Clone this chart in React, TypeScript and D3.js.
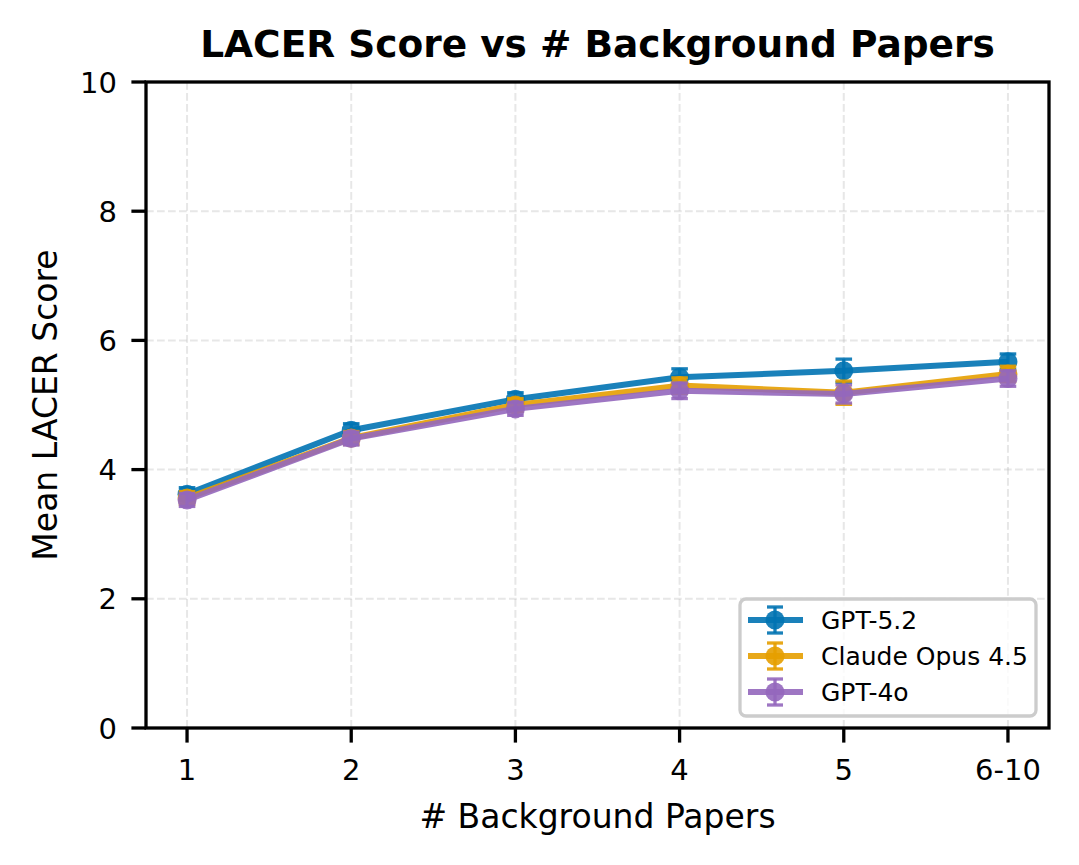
import React from "react";
import * as d3 from "d3";

const categories = ["1", "2", "3", "4", "5", "6-10"];
const gpt52 = [3.62, 4.61, 5.09, 5.43, 5.53, 5.67];
const gpt52Err = [0.1, 0.1, 0.1, 0.13, 0.18, 0.12];
const claude = [3.56, 4.49, 5.0, 5.3, 5.19, 5.48];
const claudeErr = [0.1, 0.1, 0.1, 0.12, 0.18, 0.12];
const gpt4o = [3.53, 4.48, 4.94, 5.22, 5.17, 5.41];
const gpt4oErr = [0.1, 0.1, 0.1, 0.12, 0.14, 0.12];
const yTicks = [0, 2, 4, 6, 8, 10];

const series = [
  { name: "GPT-5.2", values: gpt52, err: gpt52Err, color: "#0173b2" },
  { name: "Claude Opus 4.5", values: claude, err: claudeErr, color: "#E69F00" },
  { name: "GPT-4o", values: gpt4o, err: gpt4oErr, color: "#9467bd" },
];

export default function App() {
  const W = 1079, H = 865;
  const L = 146, R = 1049, T = 82, B = 728;
  const x = d3.scaleLinear().domain([-0.25, categories.length - 0.75]).range([L, R]);
  const y = d3.scaleLinear().domain([0, 10]).range([B, T]);
  const line = d3.line<number>().x((_, i) => x(i)).y((d) => y(d));
  const font = "DejaVu Sans, sans-serif";
  const lw = 6;
  return (
    <svg width={W} height={H} style={{ position: "absolute", left: 0, top: 0, background: "#fff" }}>
      <rect x={0} y={0} width={W} height={H} fill="#fff" />
      {/* grid */}
      {categories.map((c, i) => (
        <line key={"gx" + c} x1={x(i)} x2={x(i)} y1={T} y2={B} stroke="#b0b0b0" strokeOpacity={0.3} strokeWidth={2} strokeDasharray="7.7,3.3" />
      ))}
      {yTicks.map((t) => (
        <line key={"gy" + t} x1={L} x2={R} y1={y(t)} y2={y(t)} stroke="#b0b0b0" strokeOpacity={0.3} strokeWidth={2} strokeDasharray="7.7,3.3" />
      ))}
      {/* series */}
      {series.map((s) => (
        <g key={s.name}>
          <path d={line(s.values) || ""} fill="none" stroke={s.color} strokeOpacity={0.9} strokeWidth={lw} strokeLinejoin="round" />
          {s.values.map((v, i) => (
            <g key={i} stroke={s.color} strokeOpacity={0.9} strokeWidth={3.3}>
              <line x1={x(i)} x2={x(i)} y1={y(v - s.err[i])} y2={y(v + s.err[i])} />
              <line x1={x(i) - 8.3} x2={x(i) + 8.3} y1={y(v - s.err[i])} y2={y(v - s.err[i])} />
              <line x1={x(i) - 8.3} x2={x(i) + 8.3} y1={y(v + s.err[i])} y2={y(v + s.err[i])} />
            </g>
          ))}
          {s.values.map((v, i) => (
            <circle key={"c" + i} cx={x(i)} cy={y(v)} r={9.5} fill={s.color} fillOpacity={0.9} />
          ))}
        </g>
      ))}
      {/* axes frame */}
      <rect x={L} y={T} width={R - L} height={B - T} fill="none" stroke="#000" strokeWidth={3.3} />
      {categories.map((c, i) => (
        <g key={"xt" + c}>
          <line x1={x(i)} x2={x(i)} y1={B} y2={B + 14.6} stroke="#000" strokeWidth={3.3} />
          <text x={x(i)} y={780} textAnchor="middle" fontFamily={font} fontSize={29}>{c}</text>
        </g>
      ))}
      {yTicks.map((t) => (
        <g key={"yt" + t}>
          <line x1={L - 14.6} x2={L} y1={y(t)} y2={y(t)} stroke="#000" strokeWidth={3.3} />
          <text x={L - 29} y={y(t) + 10.5} textAnchor="end" fontFamily={font} fontSize={29}>{t}</text>
        </g>
      ))}
      <text x={(L + R) / 2} y={828} textAnchor="middle" fontFamily={font} fontSize={33}>
        # Background Papers
      </text>
      <text transform={`translate(57,${(T + B) / 2}) rotate(-90)`} textAnchor="middle" fontFamily={font} fontSize={33}>
        Mean LACER Score
      </text>
      <text x={(L + R) / 2} y={57} textAnchor="middle" fontFamily={font} fontWeight="bold" fontSize={37.5}>
        LACER Score vs # Background Papers
      </text>
      {/* legend */}
      <rect x={740} y={599} width={296} height={117} rx={6} fill="#fff" fillOpacity={0.8} stroke="#cccccc" strokeWidth={3.3} />
      {series.map((s, i) => {
        const ly = 620 + i * 36;
        return (
          <g key={"lg" + s.name}>
            <line x1={748} x2={803} y1={ly} y2={ly} stroke={s.color} strokeOpacity={0.9} strokeWidth={lw} />
            <line x1={775} x2={775} y1={ly - 13} y2={ly + 13} stroke={s.color} strokeOpacity={0.9} strokeWidth={3.3} />
            <line x1={767} x2={783} y1={ly - 13} y2={ly - 13} stroke={s.color} strokeOpacity={0.9} strokeWidth={3.3} />
            <line x1={767} x2={783} y1={ly + 13} y2={ly + 13} stroke={s.color} strokeOpacity={0.9} strokeWidth={3.3} />
            <circle cx={775} cy={ly} r={9.5} fill={s.color} fillOpacity={0.9} />
            <text x={821} y={ly + 9} fontFamily={font} fontSize={25}>{s.name}</text>
          </g>
        );
      })}
    </svg>
  );
}
